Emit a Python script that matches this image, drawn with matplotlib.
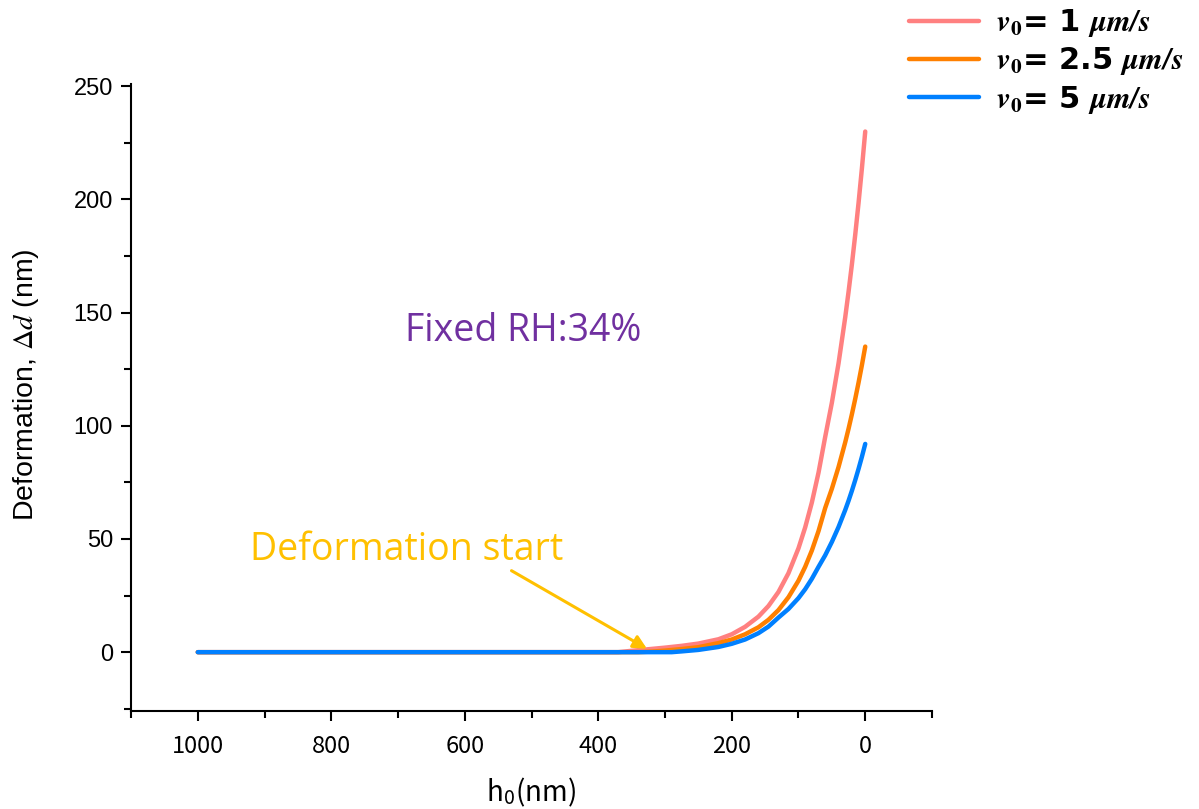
import matplotlib
matplotlib.use("Agg")
import matplotlib.pyplot as plt
from matplotlib.ticker import MultipleLocator

plt.rcParams['mathtext.fontset'] = 'stix'

# Gap height h0 (nm) and resulting deformation (nm) for three approach speeds
h_pink = [1000, 370, 350, 325, 300, 275, 250, 220, 200, 180, 160, 145, 130, 115,
          100, 90, 80, 70, 60, 50, 40, 30, 25, 20, 15, 10, 5, 0]
d_pink = [0, 0, 0.6, 1.3, 2.0, 2.8, 3.8, 5.7, 7.9, 11.2, 15.7, 20.4, 26.6, 34.9,
          45.9, 55.1, 66.1, 79.3, 95.1, 110.2, 127.6, 147.9, 159.2, 171.3, 184.4,
          198.5, 213.7, 230]

h_orange = [1000, 340, 320, 300, 275, 250, 220, 200, 180, 160, 145, 130, 115,
            100, 90, 80, 70, 60, 50, 40, 30, 25, 20, 15, 10, 5, 0]
d_orange = [0, 0, 0.25, 0.7, 1.4, 2.2, 4.0, 5.6, 7.9, 11.0, 14.3, 18.6, 24.3,
            31.6, 37.7, 44.9, 53.5, 63.7, 72.2, 81.8, 92.7, 98.7, 105.1, 111.9,
            119.1, 126.8, 135]

h_blue = [1000, 290, 275, 250, 220, 200, 180, 160, 145, 130, 115,
          100, 90, 80, 70, 60, 50, 40, 30, 25, 20, 15, 10, 5, 0]
d_blue = [0, 0, 0.35, 1.0, 2.3, 3.7, 5.6, 8.4, 11.3, 15.3, 19.1,
          23.9, 27.8, 32.4, 37.7, 42.8, 48.7, 55.3, 62.8, 66.9, 71.3, 76.0,
          81.0, 86.3, 92]

labels = [r"$\mathbfit{v}_\mathbf{0}$= 1 $\mathbfit{\mu m/s}$",
          r"$\mathbfit{v}_\mathbf{0}$= 2.5 $\mathbfit{\mu m/s}$",
          r"$\mathbfit{v}_\mathbf{0}$= 5 $\mathbfit{\mu m/s}$"]
colors = ["#FF8080", "#FF8000", "#0080FF"]

x_ticks = [1000, 800, 600, 400, 200, 0]
y_ticks = [0, 50, 100, 150, 200, 250]

fig = plt.figure(figsize=(11.99, 8.09), dpi=100)
ax = fig.add_axes([0.1093, 0.1211, 0.6680, 0.7751])

series = [(h_pink, d_pink), (h_orange, d_orange), (h_blue, d_blue)]
lines = []
for (h, d), c, lab in zip(series, colors, labels):
    ln, = ax.plot(h, d, color=c, lw=3.2, solid_capstyle='round',
                  solid_joinstyle='round', label=lab)
    lines.append(ln)

ax.set_xlim(1100, -100)
ax.set_ylim(-26, 251)
ax.set_xticks(x_ticks)
ax.set_yticks(y_ticks)
ax.xaxis.set_minor_locator(MultipleLocator(100))
ax.yaxis.set_minor_locator(MultipleLocator(25))

for side in ("top", "right"):
    ax.spines[side].set_visible(False)
for side in ("left", "bottom"):
    ax.spines[side].set_linewidth(1.5)

ax.tick_params(which='major', direction='out', length=7, width=1.5)
ax.tick_params(which='minor', direction='out', length=5, width=1.5)
ax.tick_params(axis='y', labelsize=17, pad=6)
ax.tick_params(axis='x', labelsize=17, pad=10)
for t in ax.get_yticklabels():
    t.set_fontfamily('Liberation Sans')
for t in ax.get_xticklabels():
    t.set_fontfamily('Noto Sans CJK KR')

ax.set_ylabel(r"Deformation, $\mathit{\Delta d}$ (nm)", fontsize=20.5,
              family='Liberation Sans')
ax.yaxis.set_label_coords(-0.113, 0.52)
ax.set_xlabel(r"h$_\mathregular{0}$(nm)", fontsize=20,
              family='Noto Sans CJK KR', labelpad=13)

ax.text(690, 142, "Fixed RH:34%", color="#7030A0", fontsize=27,
        family='Open Sans', ha='left', va='center')
ax.text(922, 45, "Deformation start", color="#FFC000", fontsize=27,
        family='Open Sans', ha='left', va='center')
ax.annotate("", xy=(327, 1.5), xytext=(530, 36),
            arrowprops=dict(arrowstyle="-|>,head_length=0.8,head_width=0.4",
                            color="#FFC000", lw=2.2, shrinkA=0, shrinkB=0))

leg = fig.legend(handles=lines, loc='upper left', bbox_to_anchor=(0.748, 1.006),
                 frameon=False, fontsize=22, handlelength=2.3,
                 handletextpad=0.55, labelspacing=0.2, borderaxespad=0)
for t in leg.get_texts():
    t.set_fontweight('bold')
    t.set_fontfamily('DejaVu Sans')
for lh in leg.get_lines():
    lh.set_linewidth(3.2)

fig.savefig("out.png", dpi=100)
